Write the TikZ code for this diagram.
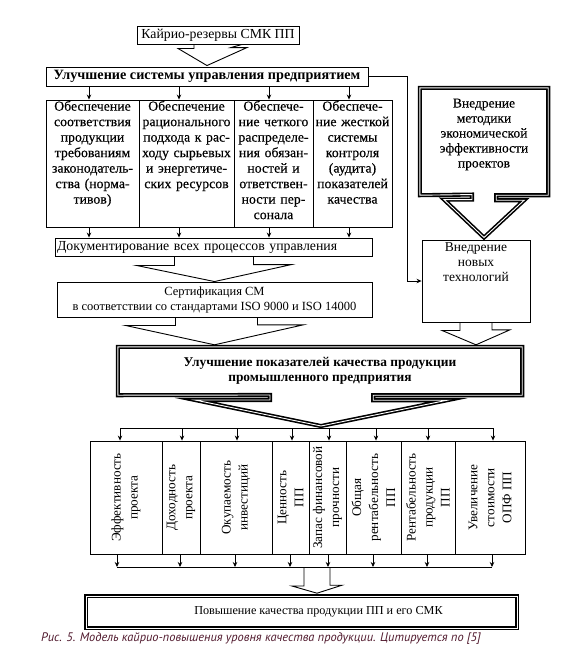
\documentclass[tikz,border=0pt]{standalone}
\usepackage{fontspec}
\setmainfont{Liberation Serif}
\newfontfamily\hvfont{Liberation Serif}[FakeBold=0.35]
\newfontfamily\capfont{PT Sans}
\usetikzlibrary{arrows.meta,calc}
\definecolor{capcol}{RGB}{80,25,45}
\newcommand{\fsz}[2]{\fontsize{#1}{#2}\selectfont}

\begin{document}
\begin{tikzpicture}
	[x=1pt,y=-1pt,
	 bx/.style={draw,line width=0.9pt,inner sep=0pt,font=\fsz{13.8}{15.5}},
	 tri/.style={draw,line width=1.6pt,double=white,double distance=0.9pt,line join=miter},
	 blk/.style={draw,line width=0.9pt,line join=miter},
	 ar/.style={line width=0.7pt,-{Stealth[length=5pt,width=4.5pt]}},
	 ctx/.style={align=center,inner sep=1pt,font=\hvfont\fsz{13.8}{15.5}},
	 rt/.style={rotate=90,align=center,inner sep=0pt,font=\fsz{13.2}{17}}]

	\useasboundingbox (0,0) rectangle (571,657);

	% top part
	\node[bx,minimum width=162pt,minimum height=18pt] (kr) at (218,35) {Кайрио-резервы СМК ПП};
	\node[bx,minimum width=322pt,minimum height=19pt,font=\bfseries\fsz{14.2}{15}] (usu) at (207,76.5)
		{Улучшение системы управления предприятием};

	\draw[blk] ([xshift=-24pt]kr.south) -- ++(0,4) -- ++(-16,0) -- ([yshift=1pt]usu.north)
		-- ++(40,-18) -- ++(-16,0) -- ([xshift=24pt]kr.south);

	% four columns
	\node[bx,minimum width=93pt,minimum height=127pt] (c1) at (92.5,163.5) {};
	\node[bx,minimum width=95pt,minimum height=127pt] (c2) at (186.5,163.5) {};
	\node[bx,minimum width=79pt,minimum height=127pt] (c3) at (273.5,163.5) {};
	\node[bx,minimum width=79pt,minimum height=127pt] (c4) at (352.5,163.5) {};

	\node[ctx,text width=91pt,anchor=north] (t1) at (c1.north)
		{Обеспечение\\соответствия\\продукции\\требованиям\\законодатель-\\ства (норма-\\тивов)};
	\node[ctx,text width=93pt,anchor=north] (t2) at (c2.north)
		{Обеспечение\\рационального\\подхода к рас-\\ходу сырьевых\\и энергетиче-\\ских ресурсов};
	\node[ctx,text width=77pt,anchor=north] (t3) at (c3.north)
		{Обеспече-\\ние четкого\\распределе-\\ния обязан-\\ностей и\\ответствен-\\ности пер-\\сонала};
	\node[ctx,text width=77pt,anchor=north] (t4) at (c4.north)
		{Обеспече-\\ние жесткой\\системы\\контроля\\(аудита)\\показателей\\качества};

	\node[bx,minimum width=317pt,minimum height=18pt,text width=313pt,align=left] (doc) at (213.5,247)
		{Документирование всех процессов управления};

	\foreach \x in {89,179,269,349} {
		\draw[ar] (\x,0 |- usu.south) -- (\x,0 |- c1.north);
		\draw[ar] (\x,0 |- c1.south) -- (\x,0 |- doc.north);
	}

	\node[bx,minimum width=315pt,minimum height=35pt,align=center,font=\fsz{12.5}{15}] (cert) at (214.5,299.5)
		{Сертификация СМ\\в соответствии со стандартами ISO 9000 и ISO 14000};

	\draw[blk] ([xshift=-39pt]doc.south) -- ++(0,9) -- ++(-38,0) -- (cert.north)
		-- ++(77,-17) -- ++(-38,0) -- ([xshift=40pt]doc.south);

	% right part
	\node[minimum width=128pt,minimum height=107pt,inner sep=0pt] (rb) at (484,141.5) {};
	\node[ctx,font=\hvfont\fsz{13.5}{15}] (rbt) at ([yshift=7pt]rb.center)
		{Внедрение\\методики\\экономической\\эффективности\\проектов};
	\node[bx,minimum width=108pt,minimum height=82pt] (nt) at (476,281) {};
	\node[ctx,anchor=north,inner sep=3pt,font=\fsz{13.5}{15}] (ntt) at (nt.north) {Внедрение\\новых\\технологий};

	\draw[tri] (rb.south west) -- (rb.north west) -- (rb.north east) -- (rb.south east)
		-- ++(-52,0) -- ++(0,5) -- ++(28,0) -- ($(rb.south |- nt.north)+(0,-2)$)
		-- ++(-40,-38) -- ++(28,0) -- ++(0,-5) -- cycle;

	\draw[ar] (usu.east) -- (407,0 |- usu.east) |- (nt.west);

	% main box
	\node[minimum width=404pt,minimum height=48pt,align=center,font=\bfseries\fsz{13.4}{15}] (main) at (320,371)
		{Улучшение показателей качества продукции\\промышленного предприятия};
	\coordinate (ap) at (321,426);
	\coordinate (bl) at (120,428);
	\coordinate (br) at (493,428);

	\draw[tri] (main.south west) -- (main.north west) -- (main.north east) -- (main.south east)
		-- ++(-149,0) -- ++(0,5) -- ++(74,0) -- (ap) -- ++(-126,-26) -- ++(75,0) -- ++(0,-5) -- cycle;

	\draw[blk] ([xshift=-39pt]cert.south) -- ++(0,8) -- ++(-50,0) -- ($(cert.south |- main.north)+(0,-2)$)
		-- ++(89,-20) -- ++(-46,0) -- ([xshift=43pt]cert.south);
	\draw[blk] ([xshift=-16pt]nt.south) -- ++(0,8) -- ++(-18,0) -- ($(nt.south |- main.north)+(0,-2)$)
		-- ++(34,-15) -- ++(-18,0) -- ([xshift=16pt]nt.south);

	\draw[line width=0.8pt] (bl) -- (br);

	% indicators
	\node[bx,minimum width=72pt,minimum height=113pt] (b1) at (126,497.5) {};
	\node[bx,minimum width=38pt,minimum height=113pt] (b2) at (181,497.5) {};
	\node[bx,minimum width=72pt,minimum height=113pt] (b3) at (236,497.5) {};
	\node[bx,minimum width=37pt,minimum height=113pt] (b4) at (290.5,497.5) {};
	\node[bx,minimum width=37pt,minimum height=113pt] (b5) at (327.5,497.5) {};
	\node[bx,minimum width=55pt,minimum height=113pt] (b6) at (373.5,497.5) {};
	\node[bx,minimum width=54pt,minimum height=113pt] (b7) at (428,497.5) {};
	\node[bx,minimum width=70pt,minimum height=113pt] (b8) at (490,497.5) {};

	\node[rt] (r1) at (b1) {Эффективность\\проекта};
	\node[rt] (r2) at (b2) {Доходность\\проекта};
	\node[rt] (r3) at (b3) {Окупаемость\\инвестиций};
	\node[rt] (r4) at (b4) {Ценность\\ПП};
	\node[rt] (r5) at (b5) {Запас финансовой\\прочности};
	\node[rt] (r6) at (b6) {Общая\\рентабельность\\ПП};
	\node[rt] (r7) at (b7) {Рентабельность\\продукции\\ПП};
	\node[rt] (r8) at (b8) {Увеличение\\стоимости\\ОПФ ПП};

	\coordinate (cl) at (117,567);
	\coordinate (cr) at (492,567);

	\foreach \x in {120,182,237,292,329,376,428,493}
		\draw[ar] (\x,0 |- bl) -- (\x,0 |- b1.north);
	\foreach \x in {117,180,235,290,328,373,427,492}
		\draw[ar] (\x,0 |- b1.south) -- (\x,0 |- cl);

	\draw[line width=0.8pt] (cl) -- (cr);

	% result
	\node[tri,minimum width=431pt,minimum height=32pt] (fb) at (301.5,612) {};
	\node[font=\fsz{12.2}{15}] (fbt) at ([xshift=17pt]fb.center) {Повышение качества продукции ПП и его СМК};

	\draw[blk] (304,0 |- cl) -- ++(0,19) -- ++(-12,0) -- ($(317,0 |- fb.north)+(0,-2)$)
		-- ++(25,-8) -- ++(-12,0) -- (330,0 |- cl);

	\node[anchor=west,inner sep=0pt,text=capcol,font=\capfont\itshape\fsz{12.4}{14}] (cap) at (41,639)
		{Рис. 5. Модель кайрио-повышения уровня качества продукции. Цитируется по [5]};

\end{tikzpicture}
\end{document}
